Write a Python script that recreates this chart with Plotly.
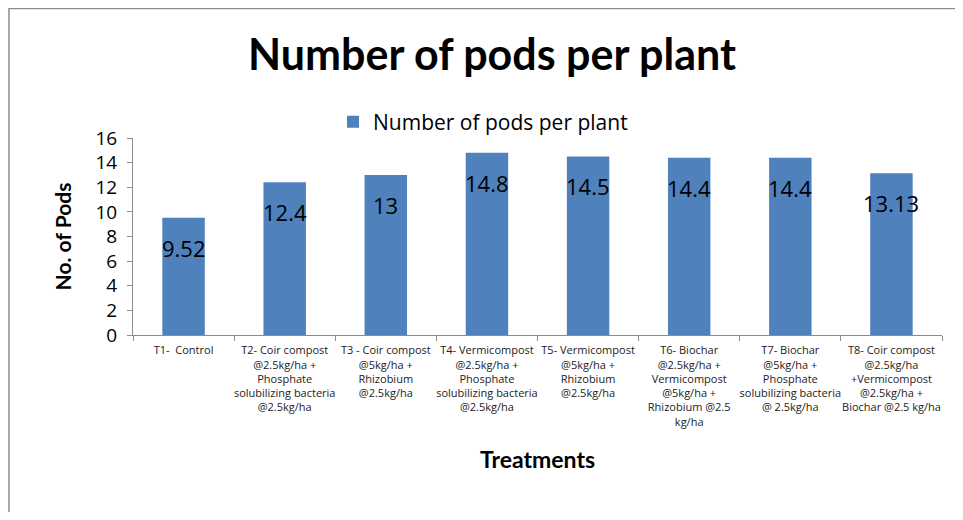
import plotly.graph_objects as go

categories = ["T1", "T2", "T3", "T4", "T5", "T6", "T7", "T8"]
values = [9.52, 12.4, 13, 14.8, 14.5, 14.4, 14.4, 13.13]
value_labels = ["9.52", "12.4", "13", "14.8", "14.5", "14.4", "14.4", "13.13"]
tick_labels = [
    "T1-  Control",
    "T2- Coir compost<br>@2.5kg/ha +<br>Phosphate<br>solubilizing bacteria<br>@2.5kg/ha",
    "T3 - Coir compost<br>@5kg/ha +<br>Rhizobium<br>@2.5kg/ha",
    "T4- Vermicompost<br>@2.5kg/ha +<br>Phosphate<br>solubilizing bacteria<br>@2.5kg/ha",
    "T5- Vermicompost<br>@5kg/ha +<br>Rhizobium<br>@2.5kg/ha",
    "T6- Biochar<br>@2.5kg/ha +<br>Vermicompost<br>@5kg/ha +<br>Rhizobium @2.5<br>kg/ha",
    "T7- Biochar<br>@5kg/ha +<br>Phosphate<br>solubilizing bacteria<br>@ 2.5kg/ha",
    "T8- Coir compost<br>@2.5kg/ha<br>+Vermicompost<br>@2.5kg/ha +<br>Biochar @2.5 kg/ha",
]
series_name = "Number of pods per plant"

BOLD = "Lato"
REG = "Open Sans"

# page has an 8px body margin; work in window pixels and convert
OFF = 8
W, H = 963 - 2 * OFF, 520 - 2 * OFF
ml, mr, mt, mb = 133 - OFF, 963 - 942 - OFF, 138 - OFF, 520 - 335 - OFF
pw, ph = W - ml - mr, H - mt - mb

def px(x):
    return (x - OFF - ml) / pw

def py(y):
    return (H - mb - (y - OFF)) / ph

fig = go.Figure()
fig.add_trace(go.Bar(
    x=categories,
    y=values,
    name=series_name,
    marker=dict(color="#4F81BD", line=dict(width=0)),
    showlegend=True,
    hoverinfo="x+y",
))

for c, v, t in zip(categories, values, value_labels):
    fig.add_annotation(
        x=c, y=v, xref="x", yref="y", text=t, showarrow=False,
        yanchor="top", yshift=-13,
        font=dict(family=REG, size=22, color="#000000"),
    )

fig.update_layout(
    width=W, height=H,
    margin=dict(l=ml, r=mr, t=mt, b=mb, autoexpand=False),
    paper_bgcolor="white",
    plot_bgcolor="white",
    font=dict(family=REG, color="#000000"),
    bargap=0.58,
    title=dict(
        text="<b>Number of pods per plant</b>",
        font=dict(family=BOLD, size=43, color="#000000"),
        x=(492 - OFF) / W, xanchor="center", xref="container",
        y=1 - (55 - OFF) / H, yanchor="middle", yref="container",
    ),
    legend=dict(
        x=px(333), y=py(122), xanchor="left", yanchor="middle",
        orientation="h",
        font=dict(family=REG, size=21, color="#000000"),
        bgcolor="rgba(0,0,0,0)",
        itemwidth=30,
    ),
    xaxis=dict(
        tickmode="array",
        tickvals=categories,
        ticktext=tick_labels,
        tickangle=0,
        tickfont=dict(family=REG, size=11, color="#222222"),
        showline=True, linecolor="#8c8c8c", linewidth=1,
        ticks="outside", ticklen=5, tickcolor="#8c8c8c",
        tickson="boundaries",
        ticklabelstandoff=5,
        showgrid=False,
        title=dict(text="<b>Treatments</b>", font=dict(family=BOLD, size=23, color="#000000"), standoff=24),
    ),
    yaxis=dict(
        range=[0, 16], dtick=2,
        tickfont=dict(family=REG, size=19, color="#000000"),
        showline=True, linecolor="#8c8c8c", linewidth=1,
        ticks="outside", ticklen=5, tickcolor="#8c8c8c",
        ticklabelstandoff=6,
        showgrid=False, zeroline=False,
        title=dict(text="<b>No. of Pods</b>", font=dict(family=BOLD, size=21, color="#000000"), standoff=18),
    ),
    shapes=[
        dict(type="rect", xref="paper", yref="paper",
             x0=px(9), x1=px(1000), y0=py(560), y1=py(8.5),
             line=dict(color="#8c8c8c", width=1.5), fillcolor="rgba(0,0,0,0)", layer="below"),
    ],
)

fig.write_html("out.html")
